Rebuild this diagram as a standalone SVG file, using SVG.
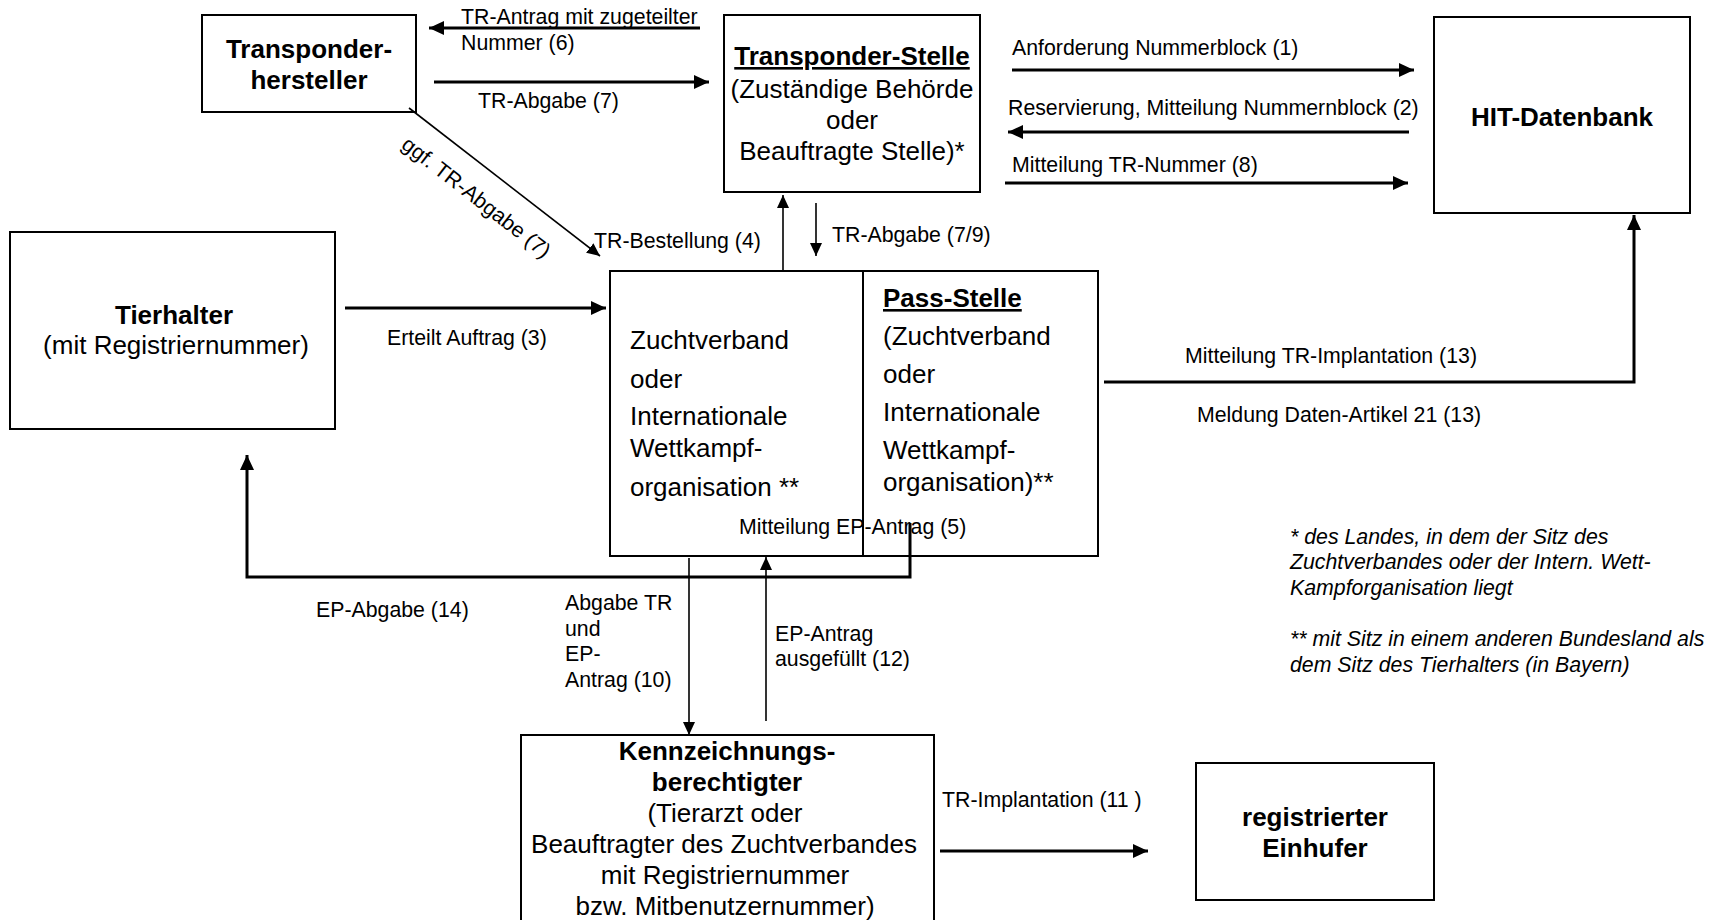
<svg xmlns="http://www.w3.org/2000/svg" width="1710" height="920" viewBox="0 0 1710 920">
<style>
text{font-family:"Liberation Sans",Arial,"Noto Sans",sans-serif;fill:#000}
.n{font-size:26px}
.b{font-weight:bold}
.u{text-decoration:underline}
.m{text-anchor:middle}
.l{font-size:21.3px}
.i{font-style:italic}
.box{fill:#fff;stroke:#000;stroke-width:2}
.thick{stroke:#000;stroke-width:3;fill:none}
.thin{stroke:#000;stroke-width:1.6;fill:none}
</style>
<defs>
<marker id="ab" markerUnits="userSpaceOnUse" markerWidth="16" markerHeight="14" refX="15" refY="7" orient="auto"><path d="M0,0 L15,7 L0,14 z" fill="#000"/></marker>
<marker id="as" markerUnits="userSpaceOnUse" markerWidth="13" markerHeight="12" refX="13" refY="6" orient="auto"><path d="M0,0 L13,6 L0,12 z" fill="#000"/></marker>
</defs>
<rect width="1710" height="920" fill="#fff"/>

<g id="n-transponderhersteller">
<rect class="box" x="202" y="15" width="214" height="97"/>
<text class="n b m" x="309" y="58">Transponder-</text>
<text class="n b m" x="309" y="89">hersteller</text>
</g>

<g id="n-transponderstelle">
<rect class="box" x="724" y="15" width="256" height="177"/>
<text class="n b m u" x="852" y="65">Transponder-Stelle</text>
<text class="n m" x="852" y="98">(Zuständige Behörde</text>
<text class="n m" x="852" y="129">oder</text>
<text class="n m" x="852" y="160">Beauftragte Stelle)*</text>
</g>

<g id="n-hit">
<rect class="box" x="1434" y="17" width="256" height="196"/>
<text class="n b m" x="1562" y="126">HIT-Datenbank</text>
</g>

<g id="n-tierhalter">
<rect class="box" x="10" y="232" width="325" height="197"/>
<text class="n b m" x="174" y="324">Tierhalter</text>
<text class="n m" x="176" y="354">(mit Registriernummer)</text>
</g>

<g id="n-zuchtverband">
<rect class="box" x="610" y="271" width="488" height="285"/>
<line x1="863" y1="271" x2="863" y2="556" stroke="#000" stroke-width="2"/>
<text class="n" x="630" y="349">Zuchtverband</text>
<text class="n" x="630" y="388">oder</text>
<text class="n" x="630" y="425">Internationale</text>
<text class="n" x="630" y="457">Wettkampf-</text>
<text class="n" x="630" y="496">organisation **</text>
</g>

<g id="n-passstelle">
<text class="n b u" x="883" y="307">Pass-Stelle</text>
<text class="n" x="883" y="345">(Zuchtverband</text>
<text class="n" x="883" y="383">oder</text>
<text class="n" x="883" y="421">Internationale</text>
<text class="n" x="883" y="459">Wettkampf-</text>
<text class="n" x="883" y="491">organisation)**</text>
</g>

<g id="n-kennzeichnung">
<rect class="box" x="521" y="735" width="413" height="200"/>
<text class="n b m" x="727" y="760">Kennzeichnungs-</text>
<text class="n b m" x="727" y="791">berechtigter</text>
<text class="n m" x="725" y="822">(Tierarzt oder</text>
<text class="n m" x="724" y="853">Beauftragter des Zuchtverbandes</text>
<text class="n m" x="725" y="884">mit Registriernummer</text>
<text class="n m" x="725" y="915">bzw. Mitbenutzernummer)</text>
</g>

<g id="n-einhufer">
<rect class="box" x="1196" y="763" width="238" height="137"/>
<text class="n b m" x="1315" y="826">registrierter</text>
<text class="n b m" x="1315" y="857">Einhufer</text>
</g>

<g id="connectors">
<line class="thick" x1="700" y1="28" x2="429" y2="28" marker-end="url(#ab)"/>
<line class="thick" x1="434" y1="82" x2="709" y2="82" marker-end="url(#ab)"/>
<line class="thin" x1="409" y1="108" x2="600" y2="256" marker-end="url(#as)"/>
<line class="thin" x1="783" y1="271" x2="783" y2="195" marker-end="url(#as)"/>
<line class="thin" x1="816" y1="203" x2="816" y2="256" marker-end="url(#as)"/>
<line class="thick" x1="1012" y1="70" x2="1414" y2="70" marker-end="url(#ab)"/>
<line class="thick" x1="1409" y1="132" x2="1008" y2="132" marker-end="url(#ab)"/>
<line class="thick" x1="1005" y1="183" x2="1408" y2="183" marker-end="url(#ab)"/>
<polyline class="thick" points="1104,382 1634,382 1634,215" marker-end="url(#ab)"/>
<line class="thick" x1="345" y1="308" x2="606" y2="308" marker-end="url(#ab)"/>
<polyline class="thick" points="910,523 910,577 247,577 247,455" marker-end="url(#ab)"/>
<line class="thin" x1="689" y1="558" x2="689" y2="735" marker-end="url(#as)"/>
<line class="thin" x1="766" y1="721" x2="766" y2="557" marker-end="url(#as)"/>
<line class="thick" x1="940" y1="851" x2="1148" y2="851" marker-end="url(#ab)"/>

<text class="l" x="461" y="24">TR-Antrag mit zugeteilter</text>
<text class="l" x="461" y="50">Nummer (6)</text>
<text class="l" x="478" y="108">TR-Abgabe (7)</text>
<text class="l m" transform="translate(472,203) rotate(38)">ggf. TR-Abgabe (7)</text>
<text class="l" x="594" y="248">TR-Bestellung (4)</text>
<text class="l" x="832" y="242">TR-Abgabe (7/9)</text>
<text class="l" x="1012" y="55">Anforderung Nummerblock (1)</text>
<text class="l" x="1008" y="115">Reservierung, Mitteilung Nummernblock (2)</text>
<text class="l" x="1012" y="172">Mitteilung TR-Nummer (8)</text>
<text class="l" x="1185" y="363">Mitteilung TR-Implantation (13)</text>
<text class="l" x="1197" y="422">Meldung Daten-Artikel 21 (13)</text>
<text class="l" x="387" y="345">Erteilt Auftrag (3)</text>
<text class="l" x="739" y="534">Mitteilung EP-Antrag (5)</text>
<text class="l" x="316" y="617">EP-Abgabe (14)</text>
<text class="l" x="565" y="610">Abgabe TR</text>
<text class="l" x="565" y="636">und</text>
<text class="l" x="565" y="661">EP-</text>
<text class="l" x="565" y="687">Antrag (10)</text>
<text class="l" x="775" y="641">EP-Antrag</text>
<text class="l" x="775" y="666">ausgefüllt (12)</text>
<text class="l" x="942" y="807">TR-Implantation (11 )</text>
</g>

<g id="footnotes">
<text class="l i" x="1290" y="544">* des Landes, in dem der Sitz des</text>
<text class="l i" x="1290" y="569">Zuchtverbandes oder der Intern. Wett-</text>
<text class="l i" x="1290" y="595">Kampforganisation liegt</text>
<text class="l i" x="1290" y="646">** mit Sitz in einem anderen Bundesland als</text>
<text class="l i" x="1290" y="672">dem Sitz des Tierhalters (in Bayern)</text>
</g>
</svg>
